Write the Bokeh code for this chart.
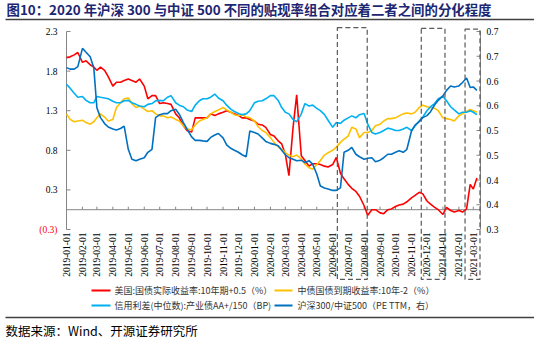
import datetime as dt
from math import pi
from bokeh.plotting import figure
from bokeh.models import Range1d
from bokeh.core.properties import value
from bokeh.embed import file_html
from bokeh.resources import INLINE

# ---------------- data ----------------
months = ["2019-01", "2019-02", "2019-03", "2019-04", "2019-05", "2019-06", "2019-07",
          "2019-08", "2019-09", "2019-10", "2019-11", "2019-12", "2020-01", "2020-02",
          "2020-03", "2020-04", "2020-05", "2020-06", "2020-07", "2020-08", "2020-09",
          "2020-10", "2020-11", "2020-12", "2021-01", "2021-02", "2021-03"]
week_days = [1, 8, 16, 23]

# 美国:国债实际收益率:10年期+0.5（%）  (left axis)
us_real = [1.92, 1.93, 1.955, 1.985,
           1.86, 1.88, 1.83, 1.80,
           1.76, 1.80, 1.76, 1.68,
           1.56, 1.61, 1.61, 1.63,
           1.65, 1.63, 1.61, 1.65,
           1.56, 1.40, 1.44, 1.44,
           1.34, 1.35, 1.34, 1.33,
           1.21, 1.16, 1.06, 1.00,
           0.98, 1.16, 1.16, 1.16,
           1.16, 1.21, 1.19, 1.21,
           1.23, 1.25, 1.23, 1.21,
           1.19, 1.16, 1.16, 1.14,
           1.12, 1.08, 1.07, 1.04,
           0.95, 0.93, 0.87, 0.83,
           0.70, 0.43, 1.04, 1.45,
           0.68, 0.62, 0.55, 0.58,
           0.58, 0.57, 0.55, 0.54,
           0.57, 0.66, 0.46, 0.39,
           0.32, 0.27, 0.23, 0.17,
           0.05, -0.07, 0.00, 0.00,
           -0.04, -0.05, 0.00, 0.01,
           0.04, 0.06, 0.07, 0.10,
           0.15, 0.18, 0.22, 0.20,
           0.11, 0.07, 0.03, 0.00,
           -0.06, 0.03, -0.01, -0.03,
           -0.01, -0.03, 0.01, 0.32,
           0.26, 0.40]

# 中债国债到期收益率:10年-2（%）  (left axis)
cn_yield = [1.21, 1.14, 1.11, 1.12,
            1.13, 1.10, 1.08, 1.11,
            1.16, 1.21, 1.17, 1.12,
            1.14, 1.29, 1.35, 1.40,
            1.41, 1.34, 1.29, 1.31,
            1.27, 1.24, 1.25, 1.21,
            1.185, 1.185, 1.16, 1.17,
            1.14, 1.12, 1.06, 1.02,
            1.01, 1.07, 1.12, 1.14,
            1.16, 1.21, 1.24, 1.26,
            1.29, 1.26, 1.23, 1.20,
            1.185, 1.20, 1.17, 1.16,
            1.12, 1.05, 1.00, 0.975,
            0.91, 0.85, 0.795, 0.765,
            0.72, 0.69, 0.67, 0.69,
            0.64, 0.575, 0.53, 0.51,
            0.57, 0.62, 0.69, 0.72,
            0.75, 0.79, 0.85, 0.89,
            0.93, 1.04, 1.02, 0.91,
            0.975, 0.975, 1.00, 1.06,
            1.08, 1.12, 1.15, 1.15,
            1.16, 1.185, 1.21, 1.22,
            1.21, 1.23, 1.29, 1.32,
            1.30, 1.29, 1.28, 1.25,
            1.16, 1.15, 1.14, 1.12,
            1.185, 1.21, 1.24, 1.265,
            1.25, 1.23]

# 信用利差(中位数):产业债AA+/150（BP)  (left axis)
credit = [1.585, 1.535, 1.47, 1.42,
          1.43, 1.38, 1.35, 1.35,
          1.43, 1.42, 1.41, 1.40,
          1.37, 1.35, 1.35, 1.375,
          1.38, 1.35, 1.33, 1.31,
          1.30, 1.33, 1.34, 1.375,
          1.38, 1.375, 1.42, 1.44,
          1.35, 1.32, 1.30, 1.26,
          1.24, 1.32, 1.375, 1.40,
          1.40, 1.42, 1.46, 1.41,
          1.375, 1.32, 1.27, 1.24,
          1.215, 1.20, 1.21, 1.25,
          1.35, 1.37, 1.375, 1.40,
          1.44, 1.44, 1.38, 1.29,
          1.23, 1.21, 1.14, 1.11,
          1.21, 1.34, 1.31, 1.32,
          1.28, 1.25, 1.20, 1.13,
          1.04, 1.10, 1.09, 1.13,
          1.16, 1.185, 1.16, 1.20,
          1.215, 1.08, 0.975, 0.955,
          0.975, 1.00, 1.03, 1.02,
          1.00, 1.00, 1.02, 1.04,
          1.00, 1.06, 1.12, 1.17,
          1.25, 1.30, 1.34, 1.40,
          1.43, 1.375, 1.30, 1.26,
          1.21, 1.23, 1.23, 1.25,
          1.23, 1.20]

# 沪深300/中证500（PE TTM，右）  (right axis)
pe_ratio = [0.627, 0.624, 0.624, 0.629,
            0.666, 0.658, 0.649, 0.627,
            0.546, 0.526, 0.514, 0.507,
            0.503, 0.501, 0.504, 0.509,
            0.462, 0.442, 0.439, 0.442,
            0.445, 0.456, 0.462, 0.526,
            0.532, 0.534, 0.534, 0.540,
            0.543, 0.533, 0.516, 0.503,
            0.487, 0.480, 0.480, 0.479,
            0.478, 0.486, 0.491, 0.494,
            0.485, 0.471, 0.464, 0.460,
            0.456, 0.451, 0.447, 0.499,
            0.496, 0.493, 0.485, 0.478,
            0.474, 0.472, 0.469, 0.460,
            0.451, 0.445, 0.442, 0.439,
            0.440, 0.435, 0.439, 0.432,
            0.412, 0.388, 0.384, 0.382,
            0.379, 0.379, 0.384, 0.456,
            0.460, 0.466, 0.452, 0.447,
            0.442, 0.444, 0.445, 0.437,
            0.440, 0.445, 0.452, 0.452,
            0.456, 0.459, 0.456, 0.462,
            0.499, 0.511, 0.518, 0.526,
            0.530, 0.538, 0.552, 0.561,
            0.570, 0.581, 0.590, 0.588,
            0.590, 0.597, 0.606, 0.587,
            0.588, 0.581]

left_ticks = [-0.25, 0.25, 0.75, 1.25, 1.75, 2.25]
left_labels = ["(0.3)", "0.3", "0.8", "1.3", "1.8", "2.3"]
left_label_colors = ["#FF0000", "#000000", "#000000", "#000000", "#000000", "#000000"]
right_ticks = [0.30, 0.35, 0.40, 0.45, 0.50, 0.55, 0.60, 0.65, 0.70]
right_labels = ["0.3", "0.4", "0.4", "0.5", "0.5", "0.6", "0.6", "0.7", "0.7"]

box_start = ["2020-06-10", "2020-11-20", "2021-02-13"]
box_end = ["2020-08-07", "2021-01-05", "2021-03-14"]
box_top = [2.30, 2.29, 2.28]
box_bottom = [-0.88, -0.88, -0.88]

legend_names = ["美国:国债实际收益率:10年期+0.5（%）", "中债国债到期收益率:10年-2（%）",
                "信用利差(中位数):产业债AA+/150（BP)", "沪深300/中证500（PE TTM，右）"]
colors = ["#FF0000", "#FFC000", "#00B0F0", "#0070C0"]
title_text = "图10：2020 年沪深 300 与中证 500 不同的贴现率组合对应着二者之间的分化程度"
source_text = "数据来源：Wind、开源证券研究所"


# ---------------- geometry (pixels on the canvas) ----------------
def d(s):
    return dt.datetime.strptime(s, "%Y-%m-%d")


W, H = 534, 339
AX_L, AX_R = 66, 480            # left / right axis positions
Y_TOP, Y_BOT = 31, 229          # pixel rows of the top and bottom axis bounds
x_first, x_last = d("2019-01-01"), d("2021-03-15")
days_per_px = (x_last - x_first).days / (AX_R - AX_L)
x_start = x_first - dt.timedelta(days=AX_L * days_per_px)
x_end = x_last + dt.timedelta(days=(W - AX_R) * days_per_px)

lb_lo, lb_hi = left_ticks[0], left_ticks[-1]
l_ppu = (Y_BOT - Y_TOP) / (lb_hi - lb_lo)
rb_lo, rb_hi = right_ticks[0], right_ticks[-1]
r_ppu = (Y_BOT - Y_TOP) / (rb_hi - rb_lo)

dates = [d(f"{m}-{dd:02d}") for m in months for dd in week_days][:len(us_real)]
tick_dates = [d(f"{m}-01") for m in months]
tick_labels = [f"{m}-01" for m in months]

CJK = "Noto Sans CJK SC"
SERIF = "Liberation Serif"
GRAY = "#868686"

p = figure(width=W, height=H,
           x_range=Range1d(x_start, x_end),
           y_range=Range1d(lb_lo - (H - Y_BOT) / l_ppu, lb_hi + Y_TOP / l_ppu),
           x_axis_location=None, y_axis_location=None, min_border=0,
           output_backend="svg", toolbar_location=None, tools="")
p.outline_line_color = None
p.grid.visible = False
p.background_fill_color = "white"
p.extra_y_ranges = {"right": Range1d(rb_lo - (H - Y_BOT) / r_ppu, rb_hi + Y_TOP / r_ppu),
                    "px": Range1d(H, 0)}
p.extra_x_ranges = {"px": Range1d(0, W)}

# ---------------- title ----------------
p.text(x=[6], y=[8], text=[title_text], text_font=value(CJK), text_font_style="bold",
       text_font_size="13.4px", text_color="#1C2672", text_baseline="middle",
       x_range_name="px", y_range_name="px")
p.segment(x0=[5], y0=[19], x1=[W], y1=[19], line_color="#404040", line_width=1.5,
          x_range_name="px", y_range_name="px")

# ---------------- axes ----------------
# left axis
p.segment(x0=[AX_L], y0=[lb_lo], x1=[AX_L], y1=[lb_hi], line_color=GRAY, line_width=1,
          x_range_name="px")
p.segment(x0=[AX_L] * len(left_ticks), y0=left_ticks, x1=[AX_L + 4] * len(left_ticks),
          y1=left_ticks, line_color=GRAY, line_width=1, x_range_name="px")
p.text(x=[AX_L - 9] * len(left_ticks), y=left_ticks, text=left_labels,
       text_color=left_label_colors, text_align="right", text_baseline="middle",
       text_font=value(SERIF), text_font_size="9.5px", x_range_name="px")
# right axis
p.segment(x0=[AX_R], y0=[rb_lo], x1=[AX_R], y1=[rb_hi], line_color=GRAY, line_width=1,
          x_range_name="px", y_range_name="right")
p.segment(x0=[AX_R - 4] * len(right_ticks), y0=right_ticks, x1=[AX_R] * len(right_ticks),
          y1=right_ticks, line_color=GRAY, line_width=1, x_range_name="px", y_range_name="right")
p.text(x=[AX_R + 6] * len(right_ticks), y=right_ticks, text=right_labels,
       text_color="#000000", text_align="left", text_baseline="middle",
       text_font=value(SERIF), text_font_size="9.5px", x_range_name="px", y_range_name="right")
# date axis drawn on the zero line, labels at the bottom
p.segment(x0=[x_first], y0=[0], x1=[x_last], y1=[0], line_color=GRAY, line_width=1)
p.segment(x0=tick_dates, y0=[0] * len(tick_dates), x1=tick_dates,
          y1=[3 / l_ppu] * len(tick_dates), line_color=GRAY, line_width=1)
p.text(x=tick_dates, y=[lb_lo] * len(tick_dates), text=tick_labels,
       angle=pi / 2, text_align="right", text_baseline="middle", y_offset=3,
       text_font=value(SERIF), text_font_size="9.5px", text_color="#000000")

# ---------------- series ----------------
p.line(dates, us_real, line_color=colors[0], line_width=1.6)
p.line(dates, cn_yield, line_color=colors[1], line_width=1.6)
p.line(dates, credit, line_color=colors[2], line_width=1.6)
p.line(dates, pe_ratio, line_color=colors[3], line_width=1.6, y_range_name="right")

p.quad(left=[d(s) for s in box_start], right=[d(s) for s in box_end],
       top=box_top, bottom=box_bottom, fill_color=None,
       line_color="#595959", line_dash="5 3", line_width=1.2)

# ---------------- legend + source ----------------
lx0 = [91, 274, 91, 274]
lx1 = [110, 292, 110, 292]
ly = [290, 290, 305, 305]
tx = [114, 297, 114, 297]
p.segment(x0=lx0, y0=ly, x1=lx1, y1=ly, line_color=colors, line_width=2,
          x_range_name="px", y_range_name="px")
p.text(x=tx, y=ly, text=legend_names, text_font=value(CJK), text_font_size="9px",
       text_color="#333333", text_baseline="middle", x_range_name="px", y_range_name="px")
p.segment(x0=[5], y0=[317], x1=[W], y1=[317], line_color="#404040", line_width=1.5,
          x_range_name="px", y_range_name="px")
p.text(x=[5], y=[330], text=[source_text], text_font=value(CJK), text_font_size="12.5px",
       text_color="#000000", text_baseline="middle", x_range_name="px", y_range_name="px")

open("out.html", "w").write(file_html(p, INLINE))
